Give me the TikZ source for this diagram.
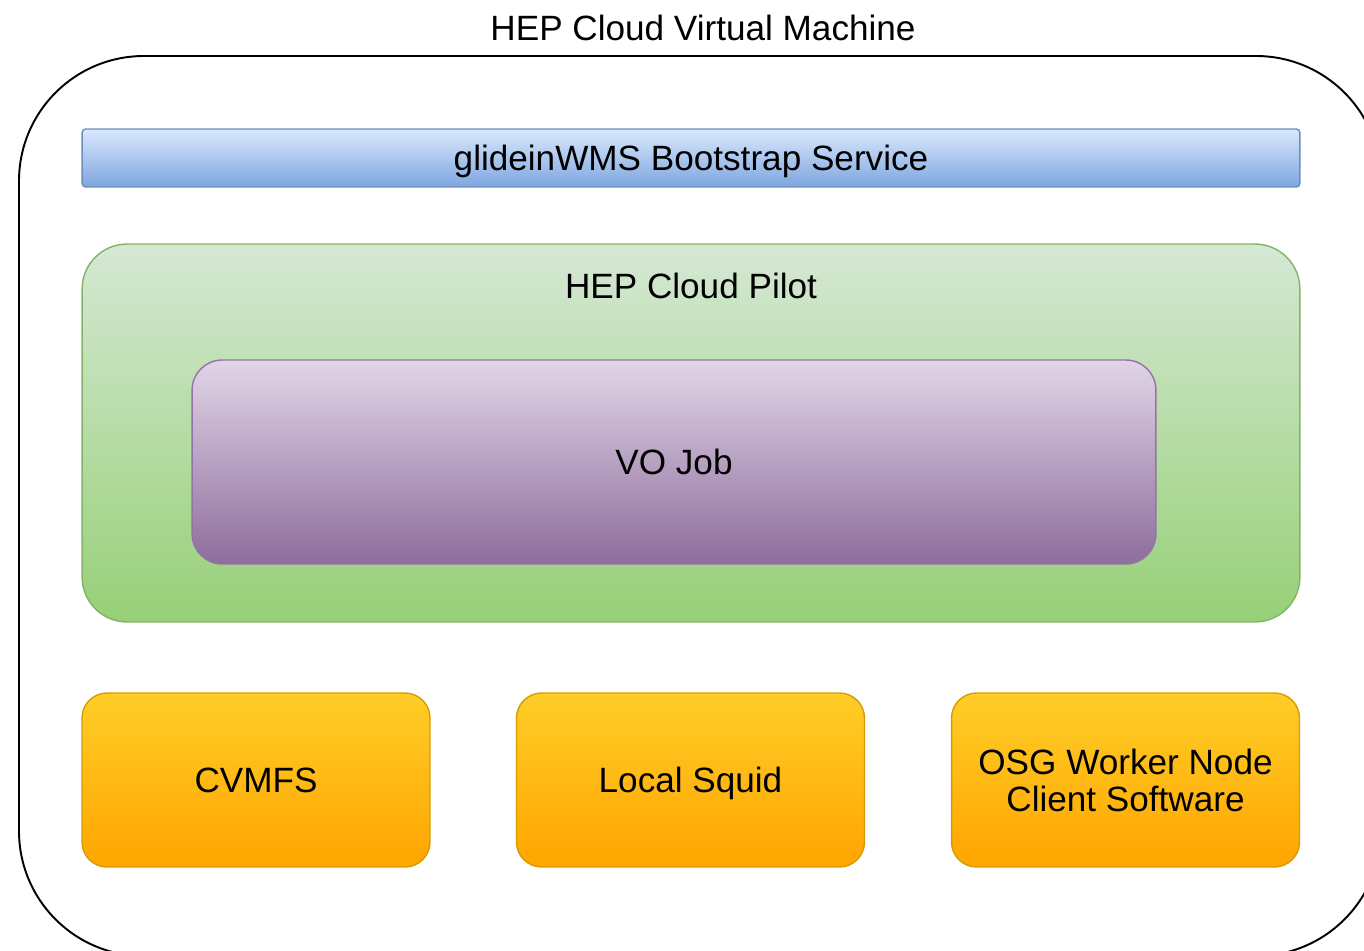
\documentclass[tikz,border=0pt]{standalone}
\usepackage{fontspec}
\setmainfont{Liberation Sans}
\definecolor{bootTop}{HTML}{DAE8FC}
\definecolor{bootBot}{HTML}{7EA6E0}
\definecolor{bootLine}{HTML}{6C8EBF}
\definecolor{pilotTop}{HTML}{D5E8D4}
\definecolor{pilotBot}{HTML}{97D077}
\definecolor{pilotLine}{HTML}{82B366}
\definecolor{jobTop}{HTML}{E1D5E7}
\definecolor{jobBot}{HTML}{8D6D9C}
\definecolor{jobLine}{HTML}{9673A6}
\definecolor{svcTop}{HTML}{FFCD28}
\definecolor{svcBot}{HTML}{FFA500}
\definecolor{svcLine}{HTML}{D79B00}
\usetikzlibrary{positioning}

\begin{document}
\begin{tikzpicture}[x=0.02cm, y=-0.02cm,
        every node/.style={font=\fontsize{20}{24}\selectfont, align=center},
        oneline/.style={text height=18.6pt, text depth=4.2pt},
        vm/.style={draw, line width=1.1pt, rounded corners=2.5cm},
        boot/.style={draw=bootLine, line width=0.8pt, rounded corners=2pt, top color=bootTop, bottom color=bootBot, minimum width=24.36cm, minimum height=1.16cm},
        pilot/.style={draw=pilotLine, line width=0.8pt, rounded corners=0.9cm, top color=pilotTop, bottom color=pilotBot, minimum width=24.36cm, minimum height=7.56cm},
        job/.style={draw=jobLine, line width=0.8pt, rounded corners=0.6cm, top color=jobTop, bottom color=jobBot, minimum width=19.28cm, minimum height=4.08cm},
        svc/.style={draw=svcLine, line width=0.8pt, rounded corners=0.5cm, top color=svcTop, bottom color=svcBot, minimum width=6.96cm, minimum height=3.48cm}
    ]
    \useasboundingbox (0,0) rectangle (1364,950);
    \clip (0,0) rectangle (1364,950);

    % Virtual machine frame (runs off the right and bottom edges)
    \draw[vm] (19,56) rectangle (1381,956);
    \node[oneline] (vmtitle) at (703,28) {HEP Cloud Virtual Machine};

    % Bootstrap
    \node[boot, oneline] (boot) at (691,158) {glideinWMS Bootstrap Service};

    % Pilot and the job inside it
    \node[pilot] (pilot) at (691,433) {};
    \node[oneline] (pilottitle) at (691,286) {HEP Cloud Pilot};
    \node[job, oneline] (vojob) at (674,462) {VO Job};

    % Services on the node
    \node[svc, oneline] (cvmfs) at (256,780) {CVMFS};
    \node[svc, oneline] (squid) at (690.5,780) {Local Squid};
    \node[svc] (osg) at (1125.5,780) {OSG Worker Node\\[-3pt]Client Software};
\end{tikzpicture}
\end{document}
